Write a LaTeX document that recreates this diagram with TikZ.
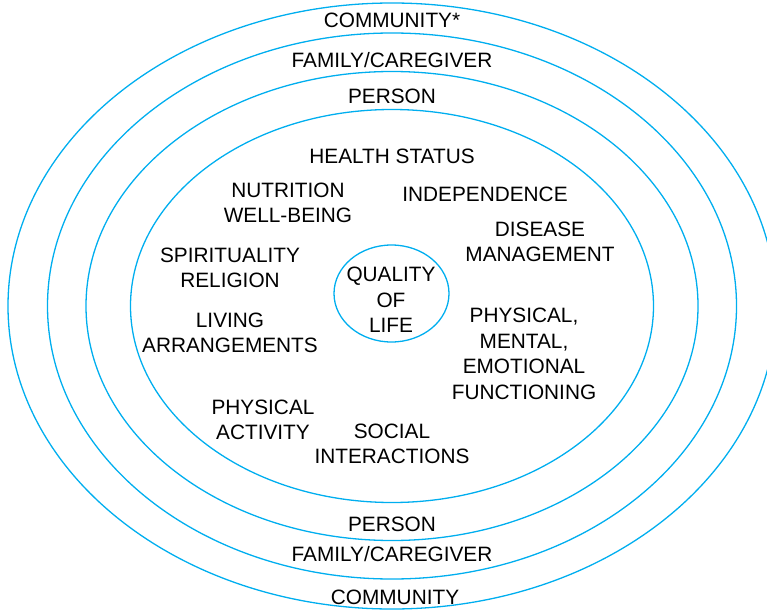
\documentclass[tikz,border=0pt]{standalone}
\usepackage{fontspec}
\setmainfont{Liberation Sans}
\definecolor{ring}{RGB}{0,174,239}
\begin{document}
\begin{tikzpicture}[x=1pt,y=-1pt,
  ringline/.style={draw=ring,line width=1.3pt},
  lbl/.style={align=center,inner sep=0pt,font=\fontsize{20.8}{25.5}\selectfont}]
\useasboundingbox (0,0) rectangle (767,610);
\begin{scope}
\clip (0,0) rectangle (767,610);
\coordinate (c) at (392,306);
\draw[ringline] (c) ellipse [x radius=384,y radius=303];
\draw[ringline] (c) ellipse [x radius=344.5,y radius=273];
\draw[ringline] (c) ellipse [x radius=306,y radius=234.5];
\draw[ringline] (c) ellipse [x radius=261.5,y radius=196.5];
\draw[ringline] (391.5,293.5) ellipse [x radius=57.5,y radius=48.5];
\end{scope}
\node[lbl] (comm) at (392,20) {COMMUNITY*};
\node[lbl] (fam) at (392,60) {FAMILY/CAREGIVER};
\node[lbl] (pers) at (392,96) {PERSON};
\node[lbl] (hs) at (392,156) {HEALTH STATUS};
\node[lbl] (nut) at (288,203) {NUTRITION\\WELL-BEING};
\node[lbl] (ind) at (485,194) {INDEPENDENCE};
\node[lbl] (dis) at (540,242) {DISEASE\\MANAGEMENT};
\node[lbl] (spi) at (230,268) {SPIRITUALITY\\RELIGION};
\node[lbl] (qol) at (391,300) {QUALITY\\OF\\LIFE};
\node[lbl] (liv) at (230,333) {LIVING\\ARRANGEMENTS};
\node[lbl] (phm) at (524,354) {PHYSICAL,\\MENTAL,\\EMOTIONAL\\FUNCTIONING};
\node[lbl] (pha) at (263,420) {PHYSICAL\\ACTIVITY};
\node[lbl] (soc) at (392,444) {SOCIAL\\INTERACTIONS};
\node[lbl] (pers2) at (392,524) {PERSON};
\node[lbl] (fam2) at (392,554) {FAMILY/CAREGIVER};
\node[lbl] (comm2) at (395,597) {COMMUNITY};
\end{tikzpicture}
\end{document}
